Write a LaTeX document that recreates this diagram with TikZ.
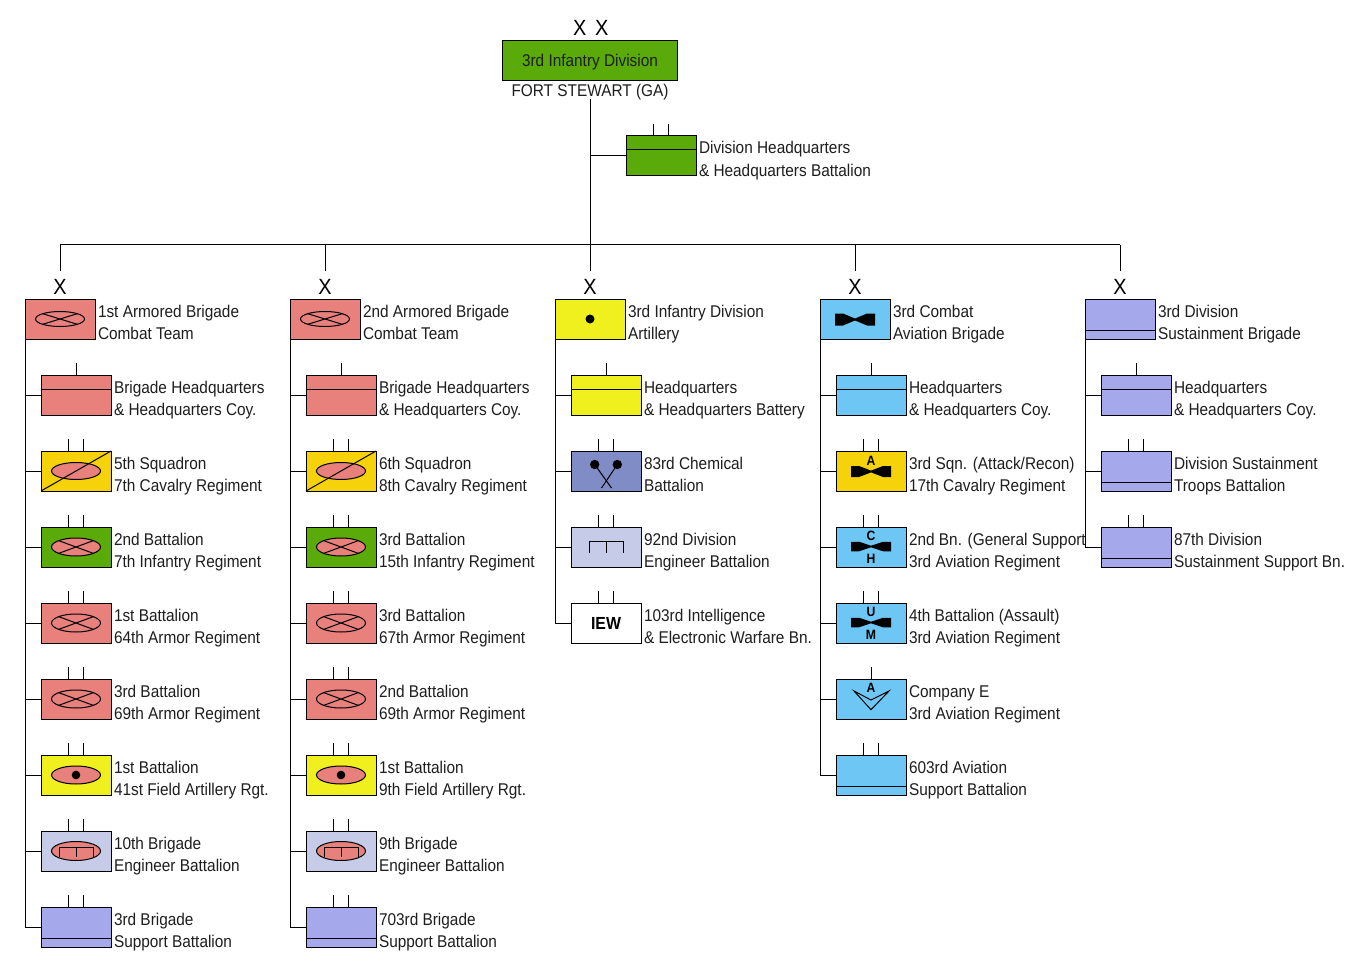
\documentclass[tikz,border=0pt]{standalone}
\usepackage{fontspec}
\setmainfont{Liberation Sans}[FakeStretch=0.905]
\usetikzlibrary{calc}
\definecolor{divgreen}{RGB}{90,170,10}
\definecolor{armor}{RGB}{232,128,124}
\definecolor{cavgold}{RGB}{245,210,10}
\definecolor{arty}{RGB}{240,240,30}
\definecolor{engpale}{RGB}{198,204,232}
\definecolor{suplav}{RGB}{166,168,236}
\definecolor{chem}{RGB}{127,140,197}
\definecolor{avblue}{RGB}{110,198,245}
\definecolor{txt}{RGB}{30,30,30}
\newcommand\unitnode[6]{%
  \node[ubox, fill=#4] (#1) at (#2,#3) {};
  \node[lab] (#1-l1) at ($(#1.north east)+(3,18)$) {#5};
  \node[lab] (#1-l2) at ($(#1.north east)+(3,40.5)$) {#6};}
\newcommand\twoticks[1]{\draw ($(#1.north)+(-7.5,0)$) -- ++(0,-12) ($(#1.north)+(7.5,0)$) -- ++(0,-12);}
\newcommand\onetick[1]{\draw (#1.north) -- ++(0,-12);}
\newcommand\hqline[1]{\draw ($(#1.north west)+(0,14)$) -- ($(#1.north east)+(0,14)$);}
\newcommand\supband[1]{\draw ($(#1.south west)+(0,-9)$) -- ($(#1.south east)+(0,-9)$);}
\newcommand\armx[3]{%
  \begin{scope}[shift={(#1.center)}]
  \fill[#2] (0,0) ellipse [x radius=24.5pt, y radius=#3pt];
  \begin{scope}\clip (0,0) ellipse [x radius=24.5pt, y radius=#3pt];
  \draw (-24.5,-#3) -- (24.5,#3) (-24.5,#3) -- (24.5,-#3);
  \end{scope}
  \draw (0,0) ellipse [x radius=24.5pt, y radius=#3pt];
  \end{scope}}
\newcommand\pinkell[2]{\draw[fill=armor] (#1.center) ellipse [x radius=24.5pt, y radius=#2pt];}
\newcommand\cavdiag[1]{\draw (#1.south west) -- (#1.north east);}
\newcommand\engsym[3]{% node, half height, vertical offset
  \begin{scope}[shift={($(#1.center)+(0,#3)$)}]
  \draw (-17,#2) -- (-17,-#2) -- (17,-#2) -- (17,#2) (0,-#2) -- (0,#2);
  \end{scope}}
\newcommand\avsym[3]{% node, y offset, yscale
  \fill[shift={($(#1.center)+(0,#2)$)}, yscale=#3] (-20,-5) -- (-12,-5) -- (0,-0.8) -- (12,-5) -- (20,-5) -- (20,5) -- (12,5) -- (0,0.8) -- (-12,5) -- (-20,5) -- cycle;}
\begin{document}
\begin{tikzpicture}[x=1pt,y=-1pt,line width=1pt,
  every node/.style={inner sep=0pt,outer sep=0pt},
  ubox/.style={draw=black,minimum width=70pt,minimum height=40pt,anchor=north west},
  lab/.style={anchor=base west,font=\fontsize{17}{20}\selectfont,text=txt},
  echelon/.style={font=\fontsize{22}{24}\selectfont,text=black},
  avl/.style={font=\fontsize{13.5}{14}\selectfont\bfseries,text=black}]
\useasboundingbox[fill=white] (0,0) rectangle (1354,968);
% division
\node[draw=black,fill=divgreen,minimum width=175pt,minimum height=39.5pt,anchor=north west] (div) at (502,41) {};
\node[anchor=base,font=\fontsize{17}{20}\selectfont,text=txt] (divname) at (590,67) {3rd Infantry Division};
\node[anchor=base,font=\fontsize{17}{20}\selectfont,text=txt] (fs) at (590,97) {FORT STEWART (GA)};
\node[echelon] (xx1) at (579.7,28.3) {X};
\node[echelon] (xx2) at (601.7,28.3) {X};
\coordinate (top) at (590,99);
% DHQ
\unitnode{dhq}{626}{136}{divgreen}{Division Headquarters}{\& Headquarters Battalion}
\hqline{dhq}\twoticks{dhq}
% bar
\coordinate (k1) at (60,245);
\coordinate (k2) at (325,245);
\coordinate (k3) at (590,245);
\coordinate (k4) at (855,245);
\coordinate (k5) at (1120,245);
\draw (top) -- (k3);
\draw (dhq.west -| top) -- (dhq.west);
\draw (k1) -- (k5);
\foreach \k in {1,...,5} {\draw (k\k) -- ++(0,26);}
\foreach \k/\x in {1/60,2/325,3/590,4/855,5/1120} {\node[echelon] (x\k) at (\x,287) {X};}
% brigades
\unitnode{b1}{25}{299}{armor}{1st Armored Brigade}{Combat Team}
\unitnode{b2}{290}{299}{armor}{2nd Armored Brigade}{Combat Team}
\unitnode{b3}{555}{299}{arty}{3rd Infantry Division}{Artillery}
\unitnode{b4}{820}{299}{avblue}{3rd Combat}{Aviation Brigade}
\unitnode{b5}{1085}{299}{suplav}{3rd Division}{Sustainment Brigade}
\armx{b1}{armor}{7.5}
\armx{b2}{armor}{7.5}
\fill (b3.center) circle [radius=4.5pt];
\avsym{b4}{0.5}{1.2}
\supband{b5}
% column 1
\unitnode{c1a}{41}{375}{armor}{Brigade Headquarters}{\& Headquarters Coy.}
\unitnode{c1b}{41}{451}{cavgold}{5th Squadron}{7th Cavalry Regiment}
\unitnode{c1c}{41}{527}{divgreen}{2nd Battalion}{7th Infantry Regiment}
\unitnode{c1d}{41}{603}{armor}{1st Battalion}{64th Armor Regiment}
\unitnode{c1e}{41}{679}{armor}{3rd Battalion}{69th Armor Regiment}
\unitnode{c1f}{41}{755}{arty}{1st Battalion}{41st Field Artillery Rgt.}
\unitnode{c1g}{41}{831}{engpale}{10th Brigade}{Engineer Battalion}
\unitnode{c1h}{41}{907}{suplav}{3rd Brigade}{Support Battalion}
% column 2
\unitnode{c2a}{306}{375}{armor}{Brigade Headquarters}{\& Headquarters Coy.}
\unitnode{c2b}{306}{451}{cavgold}{6th Squadron}{8th Cavalry Regiment}
\unitnode{c2c}{306}{527}{divgreen}{3rd Battalion}{15th Infantry Regiment}
\unitnode{c2d}{306}{603}{armor}{3rd Battalion}{67th Armor Regiment}
\unitnode{c2e}{306}{679}{armor}{2nd Battalion}{69th Armor Regiment}
\unitnode{c2f}{306}{755}{arty}{1st Battalion}{9th Field Artillery Rgt.}
\unitnode{c2g}{306}{831}{engpale}{9th Brigade}{Engineer Battalion}
\unitnode{c2h}{306}{907}{suplav}{703rd Brigade}{Support Battalion}
\foreach \c in {1,2} {
  \hqline{c\c a}\onetick{c\c a}
  \pinkell{c\c b}{8.5}\cavdiag{c\c b}
  \armx{c\c c}{armor}{9}
  \armx{c\c d}{armor}{9}
  \armx{c\c e}{armor}{9}
  \pinkell{c\c f}{9}\fill (c\c f.center) circle [radius=4.3pt];
  \pinkell{c\c g}{9.5}\engsym{c\c g}{5}{1}
  \supband{c\c h}
  \foreach \r in {b,c,d,e,f,g,h} {\twoticks{c\c\r}}
  \foreach \r in {a,b,c,d,e,f,g} {\draw (c\c\r.west -| b\c.south west) -- (c\c\r.west);}
  \draw (b\c.south west) |- (c\c h.west);
}
% column 3
\unitnode{c3a}{571}{375}{arty}{Headquarters}{\& Headquarters Battery}
\unitnode{c3b}{571}{451}{chem}{83rd Chemical}{Battalion}
\unitnode{c3c}{571}{527}{engpale}{92nd Division}{Engineer Battalion}
\unitnode{c3d}{571}{603}{white}{103rd Intelligence}{\& Electronic Warfare Bn.}
\hqline{c3a}\onetick{c3a}
\twoticks{c3b}\twoticks{c3c}\twoticks{c3d}
\draw ($(c3b.center)+(-11.3,-6.5)$) -- ($(c3b.center)+(5.5,17)$);
\draw ($(c3b.center)+(11.3,-6.5)$) -- ($(c3b.center)+(-4.5,17)$);
\fill ($(c3b.center)+(-11.3,-6.5)$) circle [radius=4.7pt];
\fill ($(c3b.center)+(11.3,-6.5)$) circle [radius=4.7pt];
\engsym{c3c}{6}{0}
\node[font=\fontsize{17.5}{20}\selectfont\bfseries,text=black] (iew) at (c3d.center) {IEW};
\foreach \r in {a,b,c} {\draw (c3\r.west -| b3.south west) -- (c3\r.west);}
\draw (b3.south west) |- (c3d.west);
% column 4
\unitnode{c4a}{836}{375}{avblue}{Headquarters}{\& Headquarters Coy.}
\unitnode{c4b}{836}{451}{cavgold}{3rd Sqn. (Attack/Recon)}{17th Cavalry Regiment}
\unitnode{c4c}{836}{527}{avblue}{2nd Bn. (General Support}{3rd Aviation Regiment}
\unitnode{c4d}{836}{603}{avblue}{4th Battalion (Assault)}{3rd Aviation Regiment}
\unitnode{c4e}{836}{679}{avblue}{Company E}{3rd Aviation Regiment}
\unitnode{c4f}{836}{755}{avblue}{603rd Aviation}{Support Battalion}
\hqline{c4a}\onetick{c4a}
\twoticks{c4b}\twoticks{c4c}\twoticks{c4d}\onetick{c4e}\twoticks{c4f}
\avsym{c4b}{0.5}{1.1}
\node[avl] (c4b-s) at ($(c4b.center)+(0,-10.3)$) {A};
\avsym{c4c}{-0.5}{0.95}
\node[avl] (c4c-s1) at ($(c4c.center)+(0,-11)$) {C};
\node[avl] (c4c-s2) at ($(c4c.center)+(0,11.5)$) {H};
\avsym{c4d}{-0.5}{0.95}
\node[avl] (c4d-s1) at ($(c4d.center)+(0,-11)$) {U};
\node[avl] (c4d-s2) at ($(c4d.center)+(0,11.5)$) {M};
\draw[line join=miter] ($(c4e.center)+(-17,-8)$) -- ($(c4e.center)+(0,1)$) -- ($(c4e.center)+(18,-8)$) -- ($(c4e.center)+(0,10.7)$) -- cycle;
\node[avl] (c4e-s) at ($(c4e.center)+(0,-11)$) {A};
\supband{c4f}
\foreach \r in {a,b,c,d,e} {\draw (c4\r.west -| b4.south west) -- (c4\r.west);}
\draw (b4.south west) |- (c4f.west);
% column 5
\unitnode{c5a}{1101}{375}{suplav}{Headquarters}{\& Headquarters Coy.}
\unitnode{c5b}{1101}{451}{suplav}{Division Sustainment}{Troops Battalion}
\unitnode{c5c}{1101}{527}{suplav}{87th Division}{Sustainment Support Bn.}
\hqline{c5a}\onetick{c5a}
\twoticks{c5b}\twoticks{c5c}
\supband{c5b}\supband{c5c}
\foreach \r in {a,b} {\draw (c5\r.west -| b5.south west) -- (c5\r.west);}
\draw (b5.south west) |- (c5c.west);
\end{tikzpicture}
\end{document}
